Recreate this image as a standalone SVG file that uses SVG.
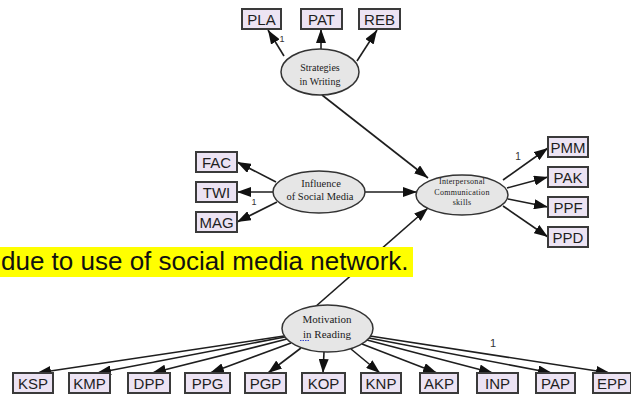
<svg xmlns="http://www.w3.org/2000/svg" width="631" height="394" viewBox="0 0 631 394">
<style>
.box{fill:#ECE3F3;stroke:#3a3a3a;stroke-width:2}
.bt{font-family:"Liberation Sans",Arial,sans-serif;font-size:15px;fill:#1e1e1e;text-anchor:middle}
.ell{fill:#E6E6E6;stroke:#333;stroke-width:1.5}
.et{font-family:"Liberation Serif","Times New Roman",serif;fill:#1a1a1a;text-anchor:middle}
.c{stroke:#1e1e1e;stroke-width:1.6;fill:none;marker-end:url(#ah)}
.one{font-family:"Liberation Sans",Arial,sans-serif;fill:#333;text-anchor:middle}
</style>
<defs>
<marker id="ah" markerUnits="userSpaceOnUse" markerWidth="14" markerHeight="10" refX="14" refY="5" orient="auto">
<path d="M0,0 L14,5 L0,10 z" fill="#111"/>
</marker>
</defs>
<rect x="0" y="0" width="631" height="394" fill="#fff"/>
<g id="connectors">
<line class="c" x1="284" y1="56" x2="268" y2="30"/>
<line class="c" x1="321" y1="49" x2="321" y2="29"/>
<line class="c" x1="357" y1="61" x2="377" y2="30"/>
<line class="c" x1="322" y1="95" x2="428" y2="178"/>
<line class="c" x1="365" y1="192" x2="417" y2="192"/>
<line class="c" x1="315" y1="307" x2="428" y2="208"/>
<line class="c" x1="276" y1="182" x2="237" y2="162"/>
<line class="c" x1="273" y1="192" x2="237" y2="192"/>
<line class="c" x1="277" y1="202" x2="237" y2="222"/>
<line class="c" x1="503" y1="180" x2="548" y2="148"/>
<line class="c" x1="507" y1="188" x2="548" y2="177"/>
<line class="c" x1="508" y1="199" x2="548" y2="207"/>
<line class="c" x1="503" y1="206" x2="548" y2="237"/>
<line class="c" x1="284" y1="336" x2="37" y2="373"/>
<line class="c" x1="285" y1="337" x2="97" y2="373"/>
<line class="c" x1="287" y1="339" x2="152" y2="373"/>
<line class="c" x1="291" y1="343" x2="210" y2="373"/>
<line class="c" x1="301" y1="348" x2="268" y2="373"/>
<line class="c" x1="324" y1="352" x2="323" y2="373"/>
<line class="c" x1="351" y1="349" x2="380" y2="373"/>
<line class="c" x1="362" y1="344" x2="437" y2="373"/>
<line class="c" x1="367" y1="340" x2="493" y2="373"/>
<line class="c" x1="369" y1="338" x2="552" y2="373"/>
<line class="c" x1="370" y1="336" x2="610" y2="373"/>
<text class="one" x="282" y="42" font-size="9">1</text>
<text class="one" x="254" y="205" font-size="9">1</text>
<text class="one" x="518" y="160" font-size="10">1</text>
<text class="one" x="493" y="347" font-size="11">1</text>
</g>
<g id="highlight">
<rect x="0" y="247" width="413" height="30" fill="#FFFF00"/>
<text x="1" y="270" font-family="&quot;Liberation Sans&quot;,Arial,sans-serif" font-size="26" fill="#111">due to use of social media network.</text>
</g>
<g id="PLA"><rect class="box" x="242" y="9" width="39" height="20"/><text class="bt" x="261.5" y="24.5">PLA</text></g>
<g id="PAT"><rect class="box" x="301" y="9" width="41" height="20"/><text class="bt" x="321.5" y="24.5">PAT</text></g>
<g id="REB"><rect class="box" x="359" y="9" width="41" height="20"/><text class="bt" x="379.5" y="24.5">REB</text></g>
<g id="strategies"><ellipse class="ell" cx="320" cy="72" rx="39" ry="23"/><text class="et" x="320" y="71" font-size="10">Strategies</text><text class="et" x="320" y="85" font-size="10">in Writing</text></g>
<g id="FAC"><rect class="box" x="196" y="152" width="41" height="20"/><text class="bt" x="216.5" y="167.5">FAC</text></g>
<g id="TWI"><rect class="box" x="196" y="182" width="41" height="20"/><text class="bt" x="216.5" y="197.5">TWI</text></g>
<g id="MAG"><rect class="box" x="196" y="212" width="41" height="20"/><text class="bt" x="216.5" y="227.5">MAG</text></g>
<g id="influence"><ellipse class="ell" cx="319" cy="192" rx="46" ry="21"/><text class="et" x="321" y="187" font-size="10.5">Influence</text><text class="et" x="320" y="200" font-size="10.5">of Social Media</text></g>
<g id="interpersonal"><ellipse class="ell" cx="462" cy="195" rx="46" ry="20"/><text class="et" x="462" y="184" font-size="8" letter-spacing="0.3">Interpersonal</text><text class="et" x="462" y="195" font-size="8" letter-spacing="0.3">Communication</text><text class="et" x="462" y="205" font-size="8" letter-spacing="0.3">skills</text></g>
<g id="PMM"><rect class="box" x="548" y="137" width="40" height="20"/><text class="bt" x="568" y="152.5">PMM</text></g>
<g id="PAK"><rect class="box" x="548" y="167" width="40" height="20"/><text class="bt" x="568" y="182.5">PAK</text></g>
<g id="PPF"><rect class="box" x="548" y="197" width="40" height="20"/><text class="bt" x="568" y="212.5">PPF</text></g>
<g id="PPD"><rect class="box" x="548" y="227" width="40" height="20"/><text class="bt" x="568" y="242.5">PPD</text></g>
<g id="motivation"><ellipse class="ell" cx="327.5" cy="328.5" rx="45.5" ry="23.5"/><text class="et" x="327" y="323" font-size="11">Motivation</text><text class="et" x="327" y="338" font-size="11">in Reading</text><line x1="300" y1="340.5" x2="309" y2="340.5" stroke="#3344cc" stroke-width="1" stroke-dasharray="1.5,1"/></g>
<g id="KSP"><rect class="box" x="13" y="373" width="40" height="20"/><text class="bt" x="33" y="388.5">KSP</text></g>
<g id="KMP"><rect class="box" x="69" y="373" width="41" height="20"/><text class="bt" x="89.5" y="388.5">KMP</text></g>
<g id="DPP"><rect class="box" x="128" y="373" width="42" height="20"/><text class="bt" x="149" y="388.5">DPP</text></g>
<g id="PPG"><rect class="box" x="185" y="373" width="45" height="20"/><text class="bt" x="207.5" y="388.5">PPG</text></g>
<g id="PGP"><rect class="box" x="245" y="373" width="41" height="20"/><text class="bt" x="265.5" y="388.5">PGP</text></g>
<g id="KOP"><rect class="box" x="302" y="373" width="43" height="20"/><text class="bt" x="323.5" y="388.5">KOP</text></g>
<g id="KNP"><rect class="box" x="361" y="373" width="40" height="20"/><text class="bt" x="381" y="388.5">KNP</text></g>
<g id="AKP"><rect class="box" x="420" y="373" width="38" height="20"/><text class="bt" x="439" y="388.5">AKP</text></g>
<g id="INP"><rect class="box" x="477" y="373" width="41" height="20"/><text class="bt" x="497.5" y="388.5">INP</text></g>
<g id="PAP"><rect class="box" x="536" y="373" width="39" height="20"/><text class="bt" x="555.5" y="388.5">PAP</text></g>
<g id="EPP"><rect class="box" x="593" y="373" width="38" height="20"/><text class="bt" x="612" y="388.5">EPP</text></g>
</svg>
